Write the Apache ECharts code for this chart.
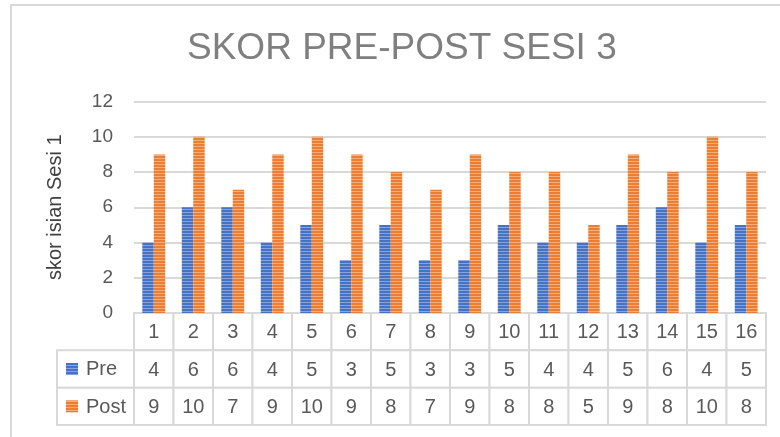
<!DOCTYPE html>
<html>
<head>
<meta charset="utf-8">
<script src="https://cdn.jsdelivr.net/npm/echarts@6/dist/echarts.min.js"></script>
<style>
  html, body { margin: 0; padding: 0; background: #fff; }
  #chart { width: 780px; height: 437px; }
</style>
</head>
<body>
<div id="chart"></div>
<script>
// data
const sessions = ['1', '2', '3', '4', '5', '6', '7', '8', '9', '10', '11', '12', '13', '14', '15', '16'];
const preScores = [4, 6, 6, 4, 5, 3, 5, 3, 3, 5, 4, 4, 5, 6, 4, 5];
const postScores = [9, 10, 7, 9, 10, 9, 8, 7, 9, 8, 8, 5, 9, 8, 10, 8];
const seriesNames = ['Pre', 'Post'];
const yTicks = { min: 0, max: 12, interval: 2 };

const BLUE = '#4472c4', BLUE_LIGHT = '#87a3da';
const ORANGE = '#ed7d31', ORANGE_LIGHT = '#f5ad7c';
const GRID_LINE = '#d9d9d9';
const FONT = 'Liberation Sans, Arial, sans-serif';

// excel-like horizontal stripe fill
function stripes(base, light) {
    const c = document.createElement('canvas');
    c.width = 4;
    c.height = 3;
    const ctx = c.getContext('2d');
    ctx.fillStyle = base;
    ctx.fillRect(0, 0, 4, 3);
    ctx.fillStyle = light;
    ctx.fillRect(0, 2, 4, 1);
    return c;
}
const bluePattern = { image: stripes(BLUE, BLUE_LIGHT), repeat: 'repeat' };
const orangePattern = { image: stripes(ORANGE, ORANGE_LIGHT), repeat: 'repeat' };
const patterns = [bluePattern, orangePattern];

// table rows: header (session numbers), Pre, Post
const tableRows = [sessions, preScores.map(String), postScores.map(String)];
const tableCells = [];
tableRows.forEach((row, r) => row.forEach((_, c) => tableCells.push([c, r])));

const chart = echarts.init(document.getElementById('chart'));

const option = {
    animation: false,
    title: {
        text: 'SKOR PRE-POST SESI 3',
        left: 182,
        top: 25,
        textStyle: {
            fontFamily: FONT,
            fontSize: 37,
            fontWeight: 'normal',
            color: '#7f7f7f'
        }
    },
    graphic: [{
        type: 'rect',
        shape: { x: 11, y: 5, width: 820, height: 500 },
        style: { fill: 'none', stroke: GRID_LINE, lineWidth: 2 },
        silent: true
    }],
    grid: [
        { left: 134, right: 14, top: 101.5, height: 211.5 },
        { left: 134, right: 14, top: 313, height: 112 },
        { left: 57, width: 77, top: 350.3, height: 74.7 }
    ],
    xAxis: [
        {
            gridIndex: 0, type: 'category', data: sessions,
            axisLine: { show: false }, axisTick: { show: false }, axisLabel: { show: false }
        },
        {
            gridIndex: 1, type: 'category', data: sessions,
            axisLine: { show: false }, axisTick: { show: false }, axisLabel: { show: false }
        },
        {
            gridIndex: 2, type: 'category', data: ['legend'],
            axisLine: { show: false }, axisTick: { show: false }, axisLabel: { show: false }
        }
    ],
    yAxis: [
        {
            gridIndex: 0, type: 'value',
            min: yTicks.min, max: yTicks.max, interval: yTicks.interval,
            name: 'skor isian Sesi 1',
            nameLocation: 'middle',
            nameRotate: 90,
            nameGap: 69,
            nameTextStyle: { fontFamily: FONT, fontSize: 20, color: '#404040' },
            axisLine: { show: false }, axisTick: { show: false },
            axisLabel: { fontFamily: FONT, fontSize: 19, color: '#595959', margin: 21 },
            splitLine: { lineStyle: { color: GRID_LINE, width: 2 } }
        },
        {
            gridIndex: 1, type: 'category', data: ['head', 'Pre', 'Post'], inverse: true,
            axisLine: { show: false }, axisTick: { show: false }, axisLabel: { show: false }
        },
        {
            gridIndex: 2, type: 'category', data: seriesNames, inverse: true,
            axisLine: { show: false }, axisTick: { show: false }, axisLabel: { show: false }
        }
    ],
    series: [
        {
            name: 'Pre', type: 'bar', xAxisIndex: 0, yAxisIndex: 0,
            data: preScores,
            barGap: 0, barCategoryGap: '42%',
            itemStyle: { color: bluePattern }
        },
        {
            name: 'Post', type: 'bar', xAxisIndex: 0, yAxisIndex: 0,
            data: postScores,
            barGap: 0, barCategoryGap: '42%',
            itemStyle: { color: orangePattern }
        },
        {
            type: 'custom', xAxisIndex: 1, yAxisIndex: 1,
            data: tableCells,
            silent: true,
            renderItem: (params, api) => {
                const col = api.value(0), row = api.value(1);
                const c = api.coord([col, row]);
                const s = api.size([1, 1]);
                return {
                    type: 'group',
                    children: [
                        {
                            type: 'rect',
                            shape: { x: c[0] - s[0] / 2, y: c[1] - s[1] / 2, width: s[0], height: s[1] },
                            style: { fill: '#fff', stroke: GRID_LINE, lineWidth: 2 }
                        },
                        {
                            type: 'text',
                            x: c[0], y: c[1] + 1,
                            style: {
                                text: tableRows[row][col],
                                align: 'center', verticalAlign: 'middle',
                                fill: '#595959', font: '20px ' + FONT
                            }
                        }
                    ]
                };
            }
        },
        {
            type: 'custom', xAxisIndex: 2, yAxisIndex: 2,
            data: [[0, 0], [0, 1]],
            silent: true,
            renderItem: (params, api) => {
                const row = api.value(1);
                const c = api.coord([0, row]);
                const s = api.size([1, 1]);
                const x0 = c[0] - s[0] / 2, y0 = c[1] - s[1] / 2;
                return {
                    type: 'group',
                    children: [
                        {
                            type: 'rect',
                            shape: { x: x0, y: y0, width: s[0], height: s[1] },
                            style: { fill: '#fff', stroke: GRID_LINE, lineWidth: 2 }
                        },
                        {
                            type: 'rect',
                            shape: { x: x0 + 9, y: c[1] - 6, width: 12, height: 12 },
                            style: { fill: patterns[row] }
                        },
                        {
                            type: 'text',
                            x: x0 + 29, y: c[1] + 1,
                            style: {
                                text: seriesNames[row],
                                align: 'left', verticalAlign: 'middle',
                                fill: '#595959', font: '20px ' + FONT
                            }
                        }
                    ]
                };
            }
        }
    ]
};

chart.setOption(option);
</script>
</body>
</html>
